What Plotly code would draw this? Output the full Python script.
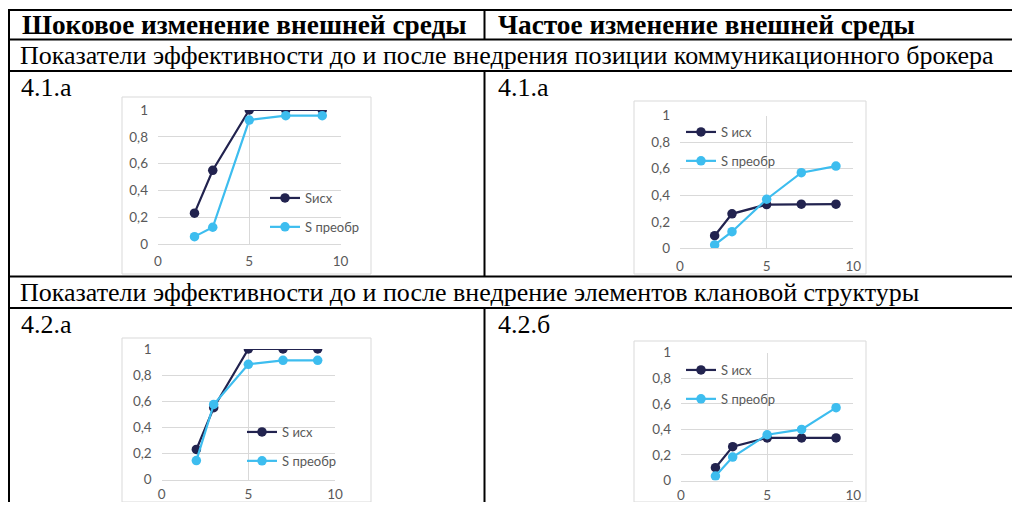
import plotly.graph_objects as go

# page is 1020x510; the browser body has an 8px margin, so the figure is
# 1004x494 and all positions below are given in page pixels.
OFF = 8
W, H = 1020 - 2 * OFF, 510 - 2 * OFF

# ---------------- data ----------------
x_vals = [2, 3, 5, 7, 9]

shock_41_ish = [0.23, 0.55, 1.0, 1.0, 1.0]
shock_41_preobr = [0.055, 0.125, 0.925, 0.958, 0.958]

freq_41_ish = [0.095, 0.26, 0.33, 0.333, 0.333]
freq_41_preobr = [0.025, 0.125, 0.37, 0.57, 0.62]

shock_42_ish = [0.23, 0.55, 1.0, 1.0, 1.0]
shock_42_preobr = [0.145, 0.575, 0.883, 0.913, 0.913]

freq_42_ish = [0.1, 0.265, 0.333, 0.333, 0.333]
freq_42_preobr = [0.035, 0.183, 0.358, 0.40, 0.57]

x_ticks = [0, 5, 10]
y_ticks = [0, 0.2, 0.4, 0.6, 0.8, 1]

header_left = "Шоковое изменение внешней среды"
header_right = "Частое изменение внешней среды"
row2_text = "Показатели эффективности до и после внедрения позиции коммуникационного брокера"
row4_text = "Показатели эффективности до и после внедрение элементов клановой структуры"
labels = ["4.1.а", "4.1.а", "4.2.а", "4.2.б"]
legend_names = [("Sисх", "S преобр"), ("S исх", "S преобр"),
                ("S исх", "S преобр"), ("S исх", "S преобр")]

# ---------------- helpers ----------------
def px(x):
    return (x - OFF) / W

def py(y):
    return 1 - (y - OFF) / H

DARK = "#22234f"
LIGHT = "#3dbdef"
GRID = "#d9d9d9"
TICK = "#595959"
TFONT = "Lato"
TSIZE = 13.5

fig = go.Figure()

# chart plot areas (pixel boxes: left, right, top, bottom) + x label standoff
areas = [
    (158, 340.5, 110, 244, 5),
    (680, 853.3, 115.7, 248.3, 5),
    (161.7, 335, 349, 479.5, 2),
    (681, 853.3, 352.7, 480.5, 2),
]
frames = [
    (122, 371, 97, 274),
    (634, 866, 101, 274),
    (122, 371, 338, 515),
    (634, 866, 341, 515),
]
legend_pos = [
    (265, 183),
    (681, 117),
    (242, 417),
    (681, 355),
]
series = [
    (shock_41_ish, shock_41_preobr),
    (freq_41_ish, freq_41_preobr),
    (shock_42_ish, shock_42_preobr),
    (freq_42_ish, freq_42_preobr),
]

shapes = []
# chart frames
for (l, r, t, b) in frames:
    shapes.append(dict(type="rect", xref="paper", yref="paper",
                       x0=px(l), x1=px(r), y0=max(py(b), 0), y1=py(t),
                       line=dict(color=GRID, width=1), fillcolor="white",
                       layer="below"))

for i, ((l, r, t, b, so), (s1, s2), (lx, ly), names) in enumerate(
        zip(areas, series, legend_pos, legend_names)):
    n = "" if i == 0 else str(i + 1)
    xa = "x" + n
    ya = "y" + n
    lg = "legend" + n
    fig.add_trace(go.Scatter(x=x_vals, y=s1, mode="lines+markers", name=names[0],
                             xaxis=xa, yaxis=ya, legend=lg, legendgroup=f"a{i}",
                             line=dict(color=DARK, width=2.2),
                             marker=dict(color=DARK, size=9.5)))
    fig.add_trace(go.Scatter(x=x_vals, y=s2, mode="lines+markers", name=names[1],
                             xaxis=xa, yaxis=ya, legend=lg, legendgroup=f"b{i}",
                             line=dict(color=LIGHT, width=2.2),
                             marker=dict(color=LIGHT, size=9.5)))
    fig.update_layout({
        "xaxis" + n: dict(domain=[px(l), px(r)], range=[0, 10], tickvals=x_ticks,
                          showgrid=True, gridcolor=GRID, gridwidth=1,
                          zeroline=False, showline=True, linecolor=GRID,
                          ticks="", ticklabelstandoff=so, automargin=False,
                          tickfont=dict(family=TFONT, size=TSIZE, color=TICK),
                          anchor=ya, fixedrange=True),
        "yaxis" + n: dict(domain=[py(b), py(t)], range=[0, 1], tickvals=y_ticks,
                          showgrid=True, gridcolor=GRID, gridwidth=1,
                          zeroline=False, showline=False,
                          ticks="", ticklabelstandoff=9, automargin=False,
                          tickfont=dict(family=TFONT, size=TSIZE, color=TICK),
                          anchor=xa, fixedrange=True),
        lg: dict(x=px(lx), y=py(ly), xanchor="left", yanchor="top",
                 bgcolor="rgba(0,0,0,0)", borderwidth=0,
                 traceorder="grouped", tracegroupgap=9,
                 font=dict(family=TFONT, size=13, color=TICK)),
    })

# table lines
LW = 2
for yline in [10, 39.5, 71, 276.5, 308]:
    shapes.append(dict(type="line", xref="paper", yref="paper",
                       x0=px(8), x1=1, y0=py(yline), y1=py(yline),
                       line=dict(color="black", width=LW)))
shapes.append(dict(type="line", xref="paper", yref="paper",
                   x0=px(9), x1=px(9), y0=py(9), y1=0,
                   line=dict(color="black", width=LW)))
for (y0, y1) in [(9, 39.5), (71, 276.5), (308, 520)]:
    shapes.append(dict(type="line", xref="paper", yref="paper",
                       x0=px(484.5), x1=px(484.5), y0=py(y0), y1=max(py(y1), 0),
                       line=dict(color="black", width=LW)))

SERIF = "Liberation Serif"
FS = 26
FSB = 27.3
annotations = []

def add_text(text, x, y, bold=False, size=FS):
    annotations.append(dict(text=f"<b>{text}</b>" if bold else text,
                            xref="paper", yref="paper", x=px(x), y=py(y),
                            xanchor="left", yanchor="middle", align="left",
                            showarrow=False,
                            font=dict(family=SERIF, size=size, color="black")))

add_text(header_left, 20, 24.5, bold=True, size=FSB)
add_text(header_right, 496, 24.5, bold=True, size=FSB)
add_text(row2_text, 18, 55.5)
add_text(labels[0], 19, 87)
add_text(labels[1], 496, 87)
add_text(row4_text, 18, 292.5)
add_text(labels[2], 19, 324)
add_text(labels[3], 496, 324)

fig.update_layout(
    width=W, height=H,
    margin=dict(l=0, r=0, t=0, b=0, autoexpand=False),
    paper_bgcolor="white", plot_bgcolor="rgba(0,0,0,0)",
    separators=", ",
    shapes=shapes, annotations=annotations,
    showlegend=True,
)

fig.write_html("out.html")
